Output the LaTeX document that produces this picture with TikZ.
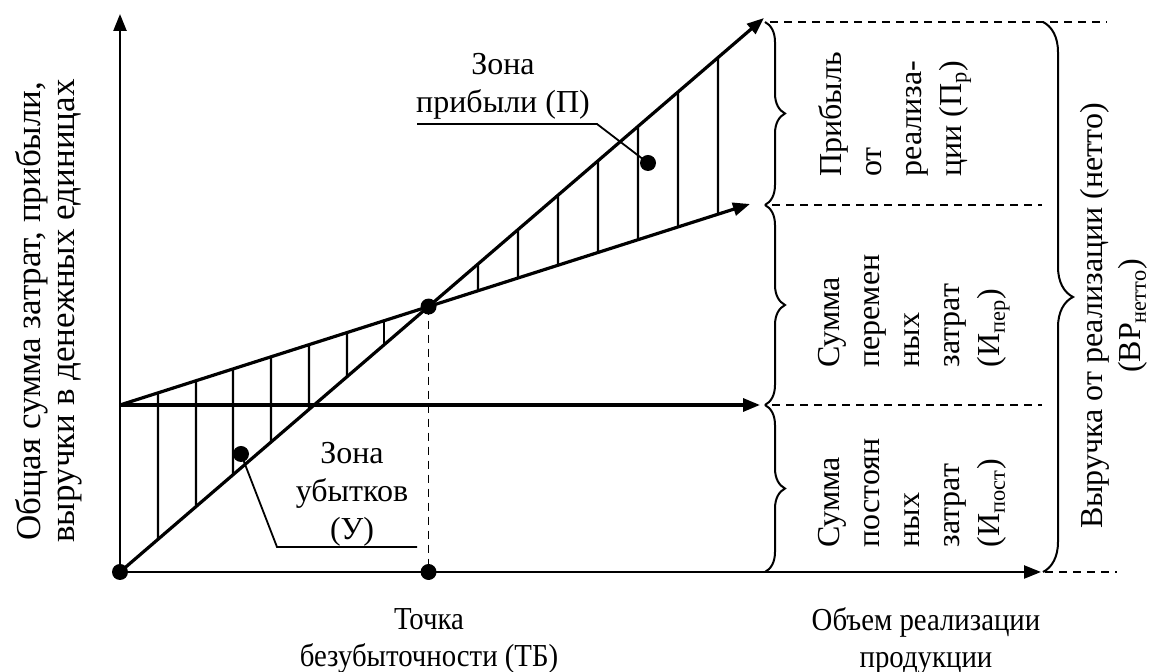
\documentclass[tikz,border=0pt]{standalone}
\usepackage{fontspec}
\setmainfont{Liberation Serif}
\newfontfamily\narrowserif[FakeStretch=0.9]{Liberation Serif}
\usetikzlibrary{arrows.meta,calc,decorations.pathreplacing}

\begin{document}
\begin{tikzpicture}[x=0.5pt,y=-0.5pt,
  font=\fontsize{16}{19}\selectfont,
  tip/.style={-{Triangle[length=8.5pt,width=6.5pt]}},
  axis/.style={tip,line width=1.2pt},
  mainline/.style={tip,line width=1.6pt},
  hatch/.style={line width=1.1pt},
  leader/.style={line width=0.9pt},
  guide/.style={line width=0.9pt,dash pattern=on 4pt off 3pt},
  dot/.style={circle,fill=black,inner sep=0pt,minimum size=8pt},
  bracestyle/.style={decorate,decoration={brace,amplitude=#1},line width=1pt},
  coltext/.style={rotate=90,anchor=north west,align=left,inner sep=0pt,
    font=\fontsize{16}{20}\selectfont},
  vlabel/.style={rotate=90,align=center,inner sep=0pt,
    font=\fontsize{16}{19}\selectfont},
  axislabel/.style={align=center,font=\narrowserif\fontsize{16}{18.5}\selectfont},
]
\useasboundingbox (0,0) rectangle (1153,672);

% axes and the three lines
\coordinate (O) at (120,572);
\coordinate (Ytop) at (120,14);
\coordinate (Xend) at (1041,572);
\coordinate (F) at (120,405);
\coordinate (Fend) at (760,405);
\coordinate (Cend) at (750,204);
\coordinate (Rend) at (764,18);
\coordinate (B) at (intersection of O--Rend and F--Cend);
\coordinate (Bx) at (B |- O);

% hatching of the loss zone and the profit zone
\foreach \x in {158,196,233,271,309,347,384,478,518,558,598,638,678,718}
  \draw[hatch] ($(F)!{(\x-120)/630}!(Cend)$) -- ($(O)!{(\x-120)/644}!(Rend)$);

\draw[axis] (O) -- (Ytop);
\draw[axis] (O) -- (Xend);
\draw[mainline] (F) -- (Fend);
\draw[mainline] (F) -- (Cend);
\draw[mainline] (O) -- (Rend);
\draw[guide] (B) -- (Bx);

\node[dot] (Odot) at (O) {};
\node[dot] (Bdot) at (B) {};
\node[dot] (Bxdot) at (Bx) {};

% zone labels with leaders
\node[dot] (Ldot) at (241,454) {};
\coordinate (Lk) at (277,547);
\coordinate (Le) at (417,547);
\draw[leader] (Ldot.center) -- (Lk) -- (Le);
\node[dot] (Pdot) at (648,163) {};
\coordinate (Pk) at (597,124);
\coordinate (Pe) at (417,124);
\draw[leader] (Pdot.center) -- (Pk) -- (Pe);

\node[align=center] (profitzone) at (503,86) {Зона\\прибыли (П)};
\node[align=center] (losszone) at (352,494) {Зона\\убытков\\(У)};
\node[axislabel] (bep) at (429,641) {Точка\\безубыточности (ТБ)};
\node[axislabel] (volume) at (926,641) {Объем реализации\\продукции};

\node[vlabel,font=\fontsize{17.5}{17}\selectfont] (ylabel) at (49,311)
  {Общая сумма затрат, прибыли,\\выручки в денежных единицах};
\node[vlabel] (revlabel) at (1114,316) {Выручка от реализации (нетто)\\(ВР\textsubscript{нетто})};

% dashed level guides
\coordinate (g1a) at (770,22);   \coordinate (g1b) at (1107,22);
\coordinate (g2a) at (772,205);  \coordinate (g2b) at (1042,205);
\coordinate (g3a) at (772,405);  \coordinate (g3b) at (1042,405);
\coordinate (g4a) at (1045,572); \coordinate (g4b) at (1117,572);
\draw[guide] (g1a) -- (g1b);
\draw[guide] (g2a) -- (g2b);
\draw[guide] (g3a) -- (g3b);
\draw[guide] (g4a) -- (g4b);

% braces
\coordinate (b1) at (765,22);
\coordinate (b2) at (765,205);
\coordinate (b3) at (765,405);
\coordinate (b4) at (765,572);
\draw[bracestyle=10pt] (b1) -- (b2);
\draw[bracestyle=10pt] (b2) -- (b3);
\draw[bracestyle=10pt] (b3) -- (b4);
\coordinate (bb1) at (1043,22);
\coordinate (bb2) at (1043,572);
\draw[bracestyle=15pt] (bb1) -- (bb2);

% column captions
\node[coltext] (profitcol) at (818,177) {Прибыль\\от\\реализа-\\ции (П\textsubscript{р})};
\node[coltext] (varcol) at (818,368) {Сумма\\перемен\\ных\\затрат\\(И\textsubscript{пер})};
\node[coltext] (fixcol) at (818,548) {Сумма\\постоян\\ных\\затрат\\(И\textsubscript{пост})};
\end{tikzpicture}
\end{document}
